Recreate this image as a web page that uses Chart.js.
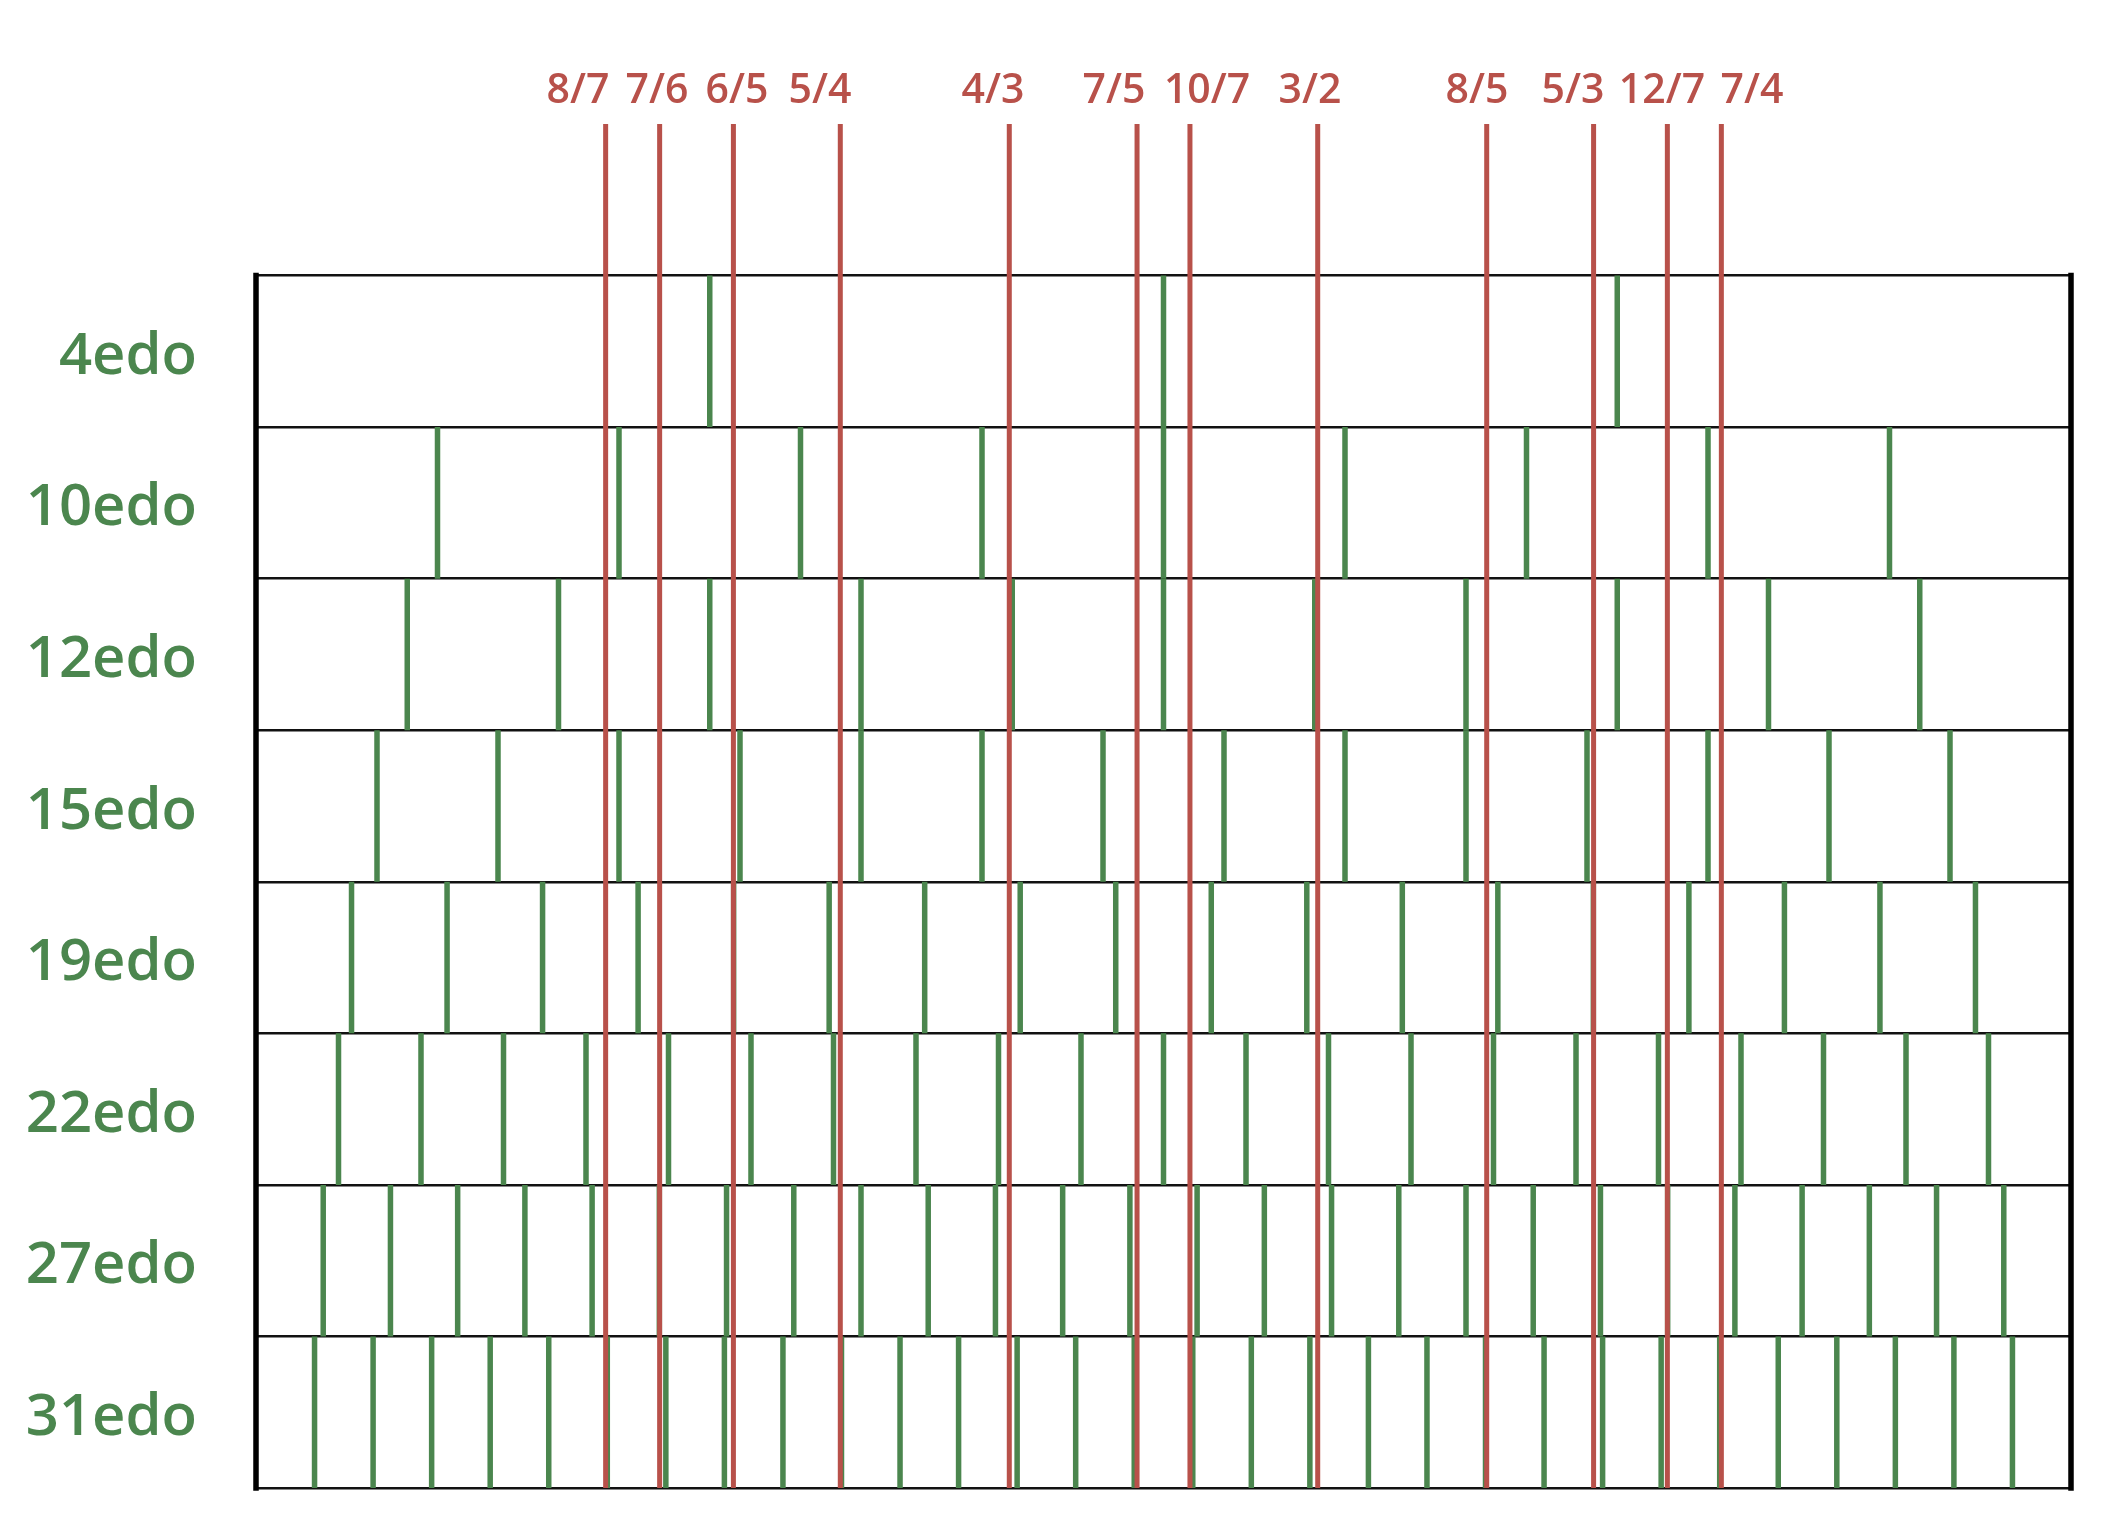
<!DOCTYPE html>
<html>
<head>
<meta charset="utf-8">
<script src="https://cdn.jsdelivr.net/npm/chart.js@4.4.1/dist/chart.umd.min.js"></script>
<style>
  html, body { margin: 0; padding: 0; background: #ffffff; }
  #wrap { width: 2110px; height: 1530px; position: relative; }
</style>
</head>
<body>
<div id="wrap"><canvas id="c" width="2110" height="1530"></canvas></div>
<script>
// ---- data (cents within one octave, 0..1200) ----
const edoNames = ['4edo', '10edo', '12edo', '15edo', '19edo', '22edo', '27edo', '31edo'];

const edo4  = [300, 600, 900];
const edo10 = [120, 240, 360, 480, 600, 720, 840, 960, 1080];
const edo12 = [100, 200, 300, 400, 500, 600, 700, 800, 900, 1000, 1100];
const edo15 = [80, 160, 240, 320, 400, 480, 560, 640, 720, 800, 880, 960, 1040, 1120];
const edo19 = [63.16, 126.32, 189.47, 252.63, 315.79, 378.95, 442.11, 505.26, 568.42, 631.58,
               694.74, 757.89, 821.05, 884.21, 947.37, 1010.53, 1073.68, 1136.84];
const edo22 = [54.55, 109.09, 163.64, 218.18, 272.73, 327.27, 381.82, 436.36, 490.91, 545.45, 600,
               654.55, 709.09, 763.64, 818.18, 872.73, 927.27, 981.82, 1036.36, 1090.91, 1145.45];
const edo27 = [44.44, 88.89, 133.33, 177.78, 222.22, 266.67, 311.11, 355.56, 400, 444.44, 488.89,
               533.33, 577.78, 622.22, 666.67, 711.11, 755.56, 800, 844.44, 888.89, 933.33, 977.78,
               1022.22, 1066.67, 1111.11, 1155.56];
const edo31 = [38.71, 77.42, 116.13, 154.84, 193.55, 232.26, 270.97, 309.68, 348.39, 387.10,
               425.81, 464.52, 503.23, 541.94, 580.65, 619.35, 658.06, 696.77, 735.48, 774.19,
               812.90, 851.61, 890.32, 929.03, 967.74, 1006.45, 1045.16, 1083.87, 1122.58, 1161.29];
const edoSteps = [edo4, edo10, edo12, edo15, edo19, edo22, edo27, edo31];

const ratioLabels = ['8/7', '7/6', '6/5', '5/4', '4/3', '7/5', '10/7', '3/2', '8/5', '5/3', '12/7', '7/4'];
const ratioCents  = [231.17, 266.87, 315.64, 386.31, 498.04, 582.51, 617.49, 701.96, 813.69, 884.36, 933.13, 968.83];
// where each ratio's label sits along the cents axis
const ratioLabelCents = [212.9, 265.1, 318.0, 372.9, 487.3, 567.3, 628.8, 696.9, 807.3, 870.7, 929.6, 989.1];

const octaveEdges = [0, 1200];

// ---- styles ----
const GREEN = '#4b864e';
const RED = '#b8514a';
const FONT = "'Open Sans', 'Noto Sans', sans-serif";
const nRows = edoNames.length;        // rows occupy y = 0..nRows
const yTopExtent = nRows + 1;          // red lines reach one row higher
const rowLabelPos = 0.46;              // vertical placement of row labels within a row

function vSegments(xs, y0, y1) {
  const pts = [];
  xs.forEach(x => { pts.push({x: x, y: y0}, {x: x, y: y1}, {x: x, y: null}); });
  return pts;
}

const datasets = [];
// red just-interval lines (drawn on top: first datasets are drawn last)
datasets.push({
  label: 'ratios',
  data: vSegments(ratioCents, 0, yTopExtent),
  borderColor: RED,
  borderWidth: 5,
  borderCapStyle: 'butt',
  pointRadius: 0,
  spanGaps: false,
  fill: false,
  tension: 0
});
// octave box edges
datasets.push({
  label: 'edges',
  data: vSegments(octaveEdges, 0, nRows),
  borderColor: '#000000',
  borderWidth: 5.5,
  borderCapStyle: 'square',
  pointRadius: 0,
  spanGaps: false,
  fill: false,
  clip: false,
  tension: 0
});
// green EDO step lines
edoSteps.forEach((steps, i) => {
  const yb = nRows - 1 - i;
  datasets.push({
    label: edoNames[i],
    data: vSegments(steps, yb, yb + 1),
    borderColor: GREEN,
    borderWidth: 5.5,
    borderCapStyle: 'butt',
    pointRadius: 0,
    spanGaps: false,
    fill: false,
    tension: 0
  });
});

const yTickValues = [];
for (let v = 0; v <= yTopExtent; v += 1) {
  yTickValues.push(v);
  if (v < nRows) yTickValues.push(v + rowLabelPos);
}

new Chart(document.getElementById('c'), {
  type: 'line',
  data: { datasets: datasets },
  options: {
    responsive: false,
    animation: false,
    events: [],
    layout: { padding: { left: 0, right: 39, top: 0, bottom: 42 } },
    plugins: { legend: { display: false }, tooltip: { enabled: false } },
    scales: {
      x: {
        type: 'linear', min: 0, max: 1200, display: false
      },
      xTop: {
        type: 'linear', position: 'top', min: 0, max: 1200,
        afterBuildTicks: s => { s.ticks = ratioLabelCents.map(v => ({value: v})); },
        afterFit: s => { s.height = 124; },
        grid: { display: false, drawTicks: false },
        border: { display: false },
        ticks: {
          autoSkip: false, maxRotation: 0, minRotation: 0,
          padding: 8,
          color: RED,
          font: { family: FONT, size: 41, weight: '600' },
          callback: (v, i) => ratioLabels[i]
        }
      },
      y: {
        type: 'linear', min: 0, max: yTopExtent,
        afterBuildTicks: s => { s.ticks = yTickValues.map(v => ({value: v})); },
        afterFit: s => { s.width = 256; s.paddingTop = 0; s.paddingBottom = 0; },
        border: { display: false },
        grid: {
          drawTicks: false,
          lineWidth: 2.5,
          color: ctx => {
            const v = ctx.tick ? ctx.tick.value : -1;
            return (Number.isInteger(v) && v <= nRows) ? '#111111' : 'rgba(0,0,0,0)';
          }
        },
        ticks: {
          autoSkip: false,
          padding: 59,
          color: GREEN,
          font: ctx => {
            const v = ctx.tick ? ctx.tick.value : 0;
            return Number.isInteger(v) ? { family: FONT, size: 1 } : { family: FONT, size: 58, weight: '600' };
          },
          callback: v => {
            if (Number.isInteger(v) || v >= nRows) return '';
            const row = nRows - 1 - Math.floor(v);
            return edoNames[row];
          }
        }
      }
    }
  }
});
</script>
</body>
</html>
